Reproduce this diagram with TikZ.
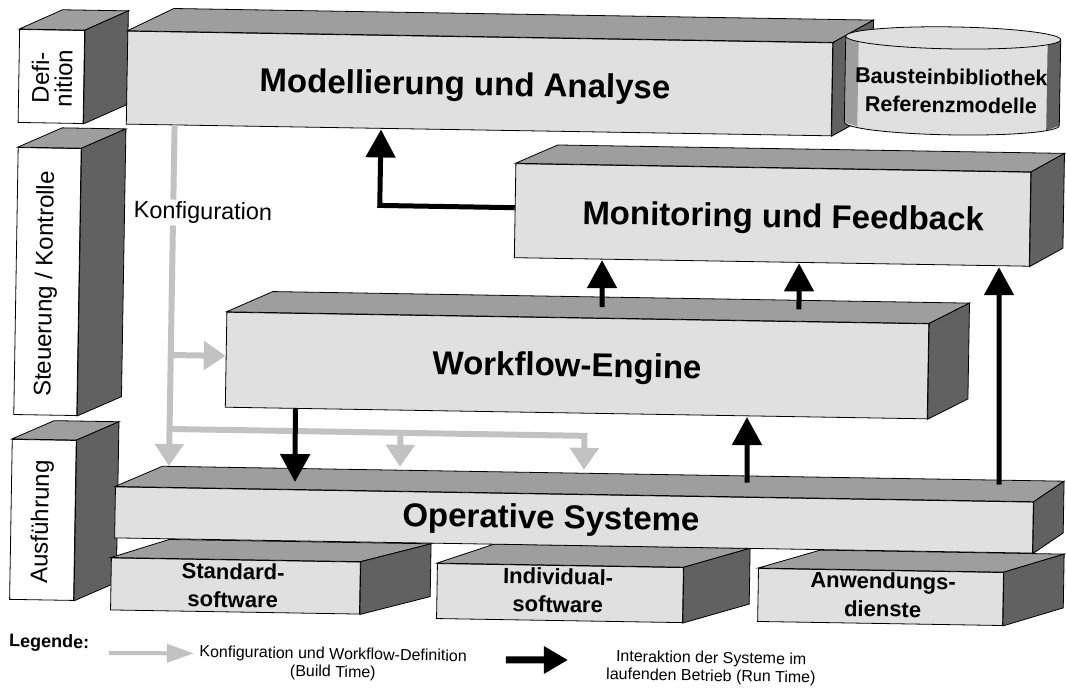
\documentclass[tikz,border=0pt]{standalone}
\usepackage{fontspec}
\setmainfont{Liberation Sans}
\usetikzlibrary{arrows.meta,calc}
\definecolor{frontc}{gray}{0.88}
\definecolor{topc}{gray}{0.62}
\definecolor{sidec}{gray}{0.38}
\definecolor{buildc}{gray}{0.76}
% name, left depth, right depth, vertical depth
\newcommand\cubeface[4]{%
  \filldraw[fill=topc, line width=0.8pt] (#1.north west) -- ++(#2,#4) -- ($(#1.north east)+(#3,#4)$) -- (#1.north east) -- cycle;
  \filldraw[fill=sidec, line width=0.8pt] (#1.north east) -- ++(#3,#4) -- ($(#1.south east)+(#3,#4)$) -- (#1.south east) -- cycle;
}
\begin{document}
\begin{tikzpicture}[x=1pt,y=-1pt,
  face/.style={draw=black, line width=0.8pt, fill=frontc, inner sep=0pt, rectangle},
  lface/.style={face, fill=white},
  title/.style={font=\bfseries\fontsize{33}{36}\selectfont, inner sep=0pt},
  sub/.style={font=\bfseries\fontsize{22}{28}\selectfont, align=center, inner sep=0pt},
  sidelab/.style={font=\fontsize{24}{23}\selectfont, rotate=90, align=center, inner sep=0pt},
  legtext/.style={font=\fontsize{16}{18}\selectfont, align=center, inner sep=0pt},
  run/.style={line width=5pt, -{Triangle[width=29pt,length=28pt]}},
  build/.style={line width=6pt, draw=buildc, -{Triangle[width=28pt,length=22pt, fill=buildc]}}
]
\useasboundingbox (0,0) rectangle (1066,688);
\begin{scope}[rotate around={-0.95:(533,344)}, transform shape]

% ---------- left level blocks ----------
\node[lface, minimum width=65pt, minimum height=93pt] (def) at (47,84.5) {};
\cubeface{def}{43}{43}{-20}
\node[sidelab] (defT) at (47.6,86) {Defi-\\nition};

\node[lface, minimum width=63pt, minimum height=267pt] (ste) at (46.5,289.6) {};
\cubeface{ste}{44}{44}{-20}
\node[sidelab] (steT) at (45,292) {Steuerung / Kontrolle};

\node[lface, minimum width=64pt, minimum height=160pt] (aus) at (45.9,528) {};
\cubeface{aus}{42}{42}{-19}
\node[sidelab] (ausT) at (45,530) {Ausführung};

% ---------- Modellierung ----------
\node[face, minimum width=705pt, minimum height=93pt] (mod) at (475.2,84.4) {};
\cubeface{mod}{46}{40}{-23}
\node[title] (modT) at (460.7,88) {Modellierung und Analyse};

% ---------- cylinder ----------
\begin{scope}[shift={(-4.4,-7)}]
\fill[frontc] (845,38) -- (845,124) arc[start angle=180, end angle=0, x radius=107.5, y radius=11] -- (1060,38) -- cycle;
\fill[sidec] (1047,38) -- (1047,129) -- (1060,124) -- (1060,38) -- cycle;
\fill[topc] (845,38) -- (845,124) -- (858,128) -- (858,38) -- cycle;
\draw[line width=0.8pt] (845,38) -- (845,124) arc[start angle=180, end angle=0, x radius=107.5, y radius=11] -- (1060,38);
\filldraw[fill=gray!25, line width=0.8pt] (952.5,38) ellipse[x radius=107.5, y radius=11];
\end{scope}
\node[sub, font=\bfseries\fontsize{21.5}{28}\selectfont] (lib) at (946.9,84) {Bausteinbibliothek\\Referenzmodelle};

% ---------- Monitoring ----------
\node[face, minimum width=515pt, minimum height=94pt] (mon) at (770.4,211) {};
\cubeface{mon}{42}{33}{-19}
\node[title] (monT) at (781,214.8) {Monitoring und Feedback};

% ---------- Workflow-Engine ----------
\node[face, minimum width=702pt, minimum height=95pt] (wf) at (577.4,364.8) {};
\cubeface{wf}{46}{40}{-21}
\node[title] (wfT) at (567.4,367.4) {Workflow-Engine};

% ---------- bottom boxes ----------
\node[face, minimum width=249pt, minimum height=52pt] (std) at (239.5,590.9) {};
\cubeface{std}{58}{70}{-19}
\node[sub] (stdT) at (237,590.5) {Standard-\\software};

\node[face, minimum width=246pt, minimum height=55pt] (ind) at (564.1,592.6) {};
\cubeface{ind}{57}{66}{-20}
\node[sub] (indT) at (562,590) {Individual-\\software};

\node[face, minimum width=245pt, minimum height=53pt] (anw) at (884.7,591.2) {};
\cubeface{anw}{62}{60}{-19}
\node[sub] (anwT) at (887,589) {Anwendungs-\\dienste};

% ---------- Operative Systeme ----------
\node[face, minimum width=918pt, minimum height=51pt] (ops) at (576.9,519.3) {};
\cubeface{ops}{47}{30}{-21}
\node[title] (opsT) at (553.9,519.7) {Operative Systeme};

% ---------- build-time (grey) connectors ----------
\coordinate (gTop) at (171,131);
\coordinate (gMid) at (171,361);
\coordinate (gJ) at (171,435);
\coordinate (gR) at (586,435);
\coordinate (gB) at (402,435);
\coordinate (gD1) at (171,472);
\coordinate (gD2) at (402,469);
\coordinate (gD3) at (586,469);
\draw[build] (gTop) -- (gD1);
\draw[build] (gMid) -- (gMid -| wf.west);
\draw[build] (gJ) -- (gR) -- (gD3);
\draw[build] (gB) -- (gD2);
\node[font=\fontsize{23.5}{26}\selectfont, fill=white, inner sep=2pt] (konf) at (200.8,218.5) {Konfiguration};

% ---------- run-time (black) connectors ----------
\coordinate (modIn) at (377.5,132);
\draw[run] ([yshift=3pt]mon.west) -| (modIn);
\coordinate (wfA) at (601.4,306);
\coordinate (monA) at (600.7,259);
\draw[run] (wfA) -- (monA);
\coordinate (wfB) at (798.4,305);
\coordinate (monB) at (797.7,259);
\draw[run] (wfB) -- (monB);
\coordinate (opC) at (1001.3,477);
\coordinate (monC) at (997.7,259.5);
\draw[run] (opC) -- (monC);
\coordinate (opD) at (749.3,479);
\coordinate (wfD) at (748.2,413.5);
\draw[run] (opD) -- (wfD);
\coordinate (wfE) at (296.5,413);
\coordinate (opE) at (297.3,486);
\draw[run] (wfE) -- (opE);

% ---------- legend ----------
\node[font=\bfseries\fontsize{18}{20}\selectfont, anchor=west, inner sep=0pt] (leg) at (14,651) {Legende:};
\coordinate (lg1) at (114,660);
\coordinate (lg2) at (199,659);
\draw[line width=4pt, draw=buildc, -{Triangle[width=18pt,length=27pt, fill=buildc]}] (lg1) -- (lg2);
\node[legtext] (lt1) at (338.3,667.3) {Konfiguration und Workflow-Definition\\(Build Time)};
\coordinate (lr1) at (511.2,660.4);
\coordinate (lr2) at (573.2,659.4);
\draw[line width=7pt, -{Triangle[width=26pt,length=24pt]}] (lr1) -- (lr2);
\node[legtext] (lt2) at (716.4,665) {Interaktion der Systeme im\\laufenden Betrieb (Run Time)};
\end{scope}
\end{tikzpicture}
\end{document}
